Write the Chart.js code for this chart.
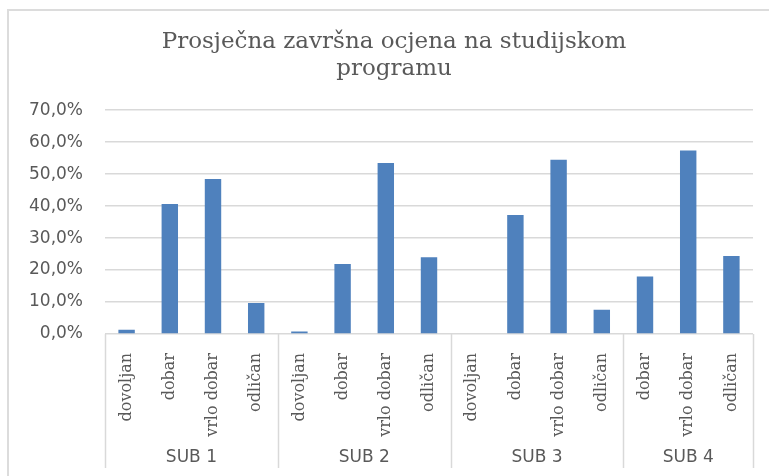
<!DOCTYPE html>
<html>
<head>
<meta charset="utf-8">
<script src="https://cdn.jsdelivr.net/npm/chart.js@4.4.1/dist/chart.umd.min.js"></script>
<style>
  html, body { margin: 0; padding: 0; background: #fff; }
  #wrap { width: 769px; height: 476px; position: relative; }
</style>
</head>
<body>
<div id="wrap"><canvas id="ocjene"></canvas></div>
<script>
// Grades per study programme, share of students in %
const sub1Grades = ['dovoljan', 'dobar', 'vrlo dobar', 'odličan'];
const sub1Values = [1.3, 40.7, 48.5, 9.7];
const sub2Grades = ['dovoljan', 'dobar', 'vrlo dobar', 'odličan'];
const sub2Values = [0.8, 21.9, 53.5, 24.0];
const sub3Grades = ['dovoljan', 'dobar', 'vrlo dobar', 'odličan'];
const sub3Values = [0, 37.2, 54.5, 7.6];
const sub4Grades = ['dobar', 'vrlo dobar', 'odličan'];
const sub4Values = [18.0, 57.4, 24.4];

const groupNames = ['SUB 1', 'SUB 2', 'SUB 3', 'SUB 4'];
const yMax = 70;
const yStep = 10;

const gradeLabels = [...sub1Grades, ...sub2Grades, ...sub3Grades, ...sub4Grades];
const shareValues = [...sub1Values, ...sub2Values, ...sub3Values, ...sub4Values];
const groupSizes = [sub1Grades.length, sub2Grades.length, sub3Grades.length, sub4Grades.length];

// index boundaries and centres of each group on the category axis
const groupEdges = [-0.5];
const groupCenters = [];
groupSizes.forEach((n) => {
  const start = groupEdges[groupEdges.length - 1];
  groupCenters.push(start + n / 2);
  groupEdges.push(start + n);
});

const gridColor = '#d9d9d9';
const textColor = '#595959';

function formatPercent(value) {
  return value.toFixed(1).replace('.', ',') + '%';
}

// Outer frame and the vertical lines separating the groups under the axis
const groupLines = {
  id: 'groupLines',
  beforeDraw(chart) {
    const { ctx } = chart;
    ctx.save();
    ctx.strokeStyle = '#dcdcdc';
    ctx.lineWidth = 2;
    ctx.beginPath();
    ctx.moveTo(8, chart.height);
    ctx.lineTo(8, 10);
    ctx.lineTo(chart.width, 10);
    ctx.stroke();
    ctx.restore();
  },
  afterDraw(chart) {
    const { ctx, chartArea } = chart;
    const grp = chart.scales.grp;
    ctx.save();
    ctx.strokeStyle = gridColor;
    ctx.lineWidth = 1.5;
    groupEdges.forEach((edge) => {
      const px = Math.round(grp.getPixelForValue(edge)) + 0.5;
      ctx.beginPath();
      ctx.moveTo(px, chartArea.bottom);
      ctx.lineTo(px, grp.bottom);
      ctx.stroke();
    });
    ctx.restore();
  },
};

new Chart(document.getElementById('ocjene'), {
  type: 'bar',
  data: {
    labels: gradeLabels,
    datasets: [
      {
        data: shareValues,
        backgroundColor: '#4f81bd',
        borderWidth: 0,
        barPercentage: 0.38,
        categoryPercentage: 1,
        xAxisID: 'x',
        yAxisID: 'y',
      },
    ],
  },
  options: {
    responsive: true,
    maintainAspectRatio: false,
    animation: false,
    layout: {
      padding: { left: 20, right: 1, top: 10, bottom: 8 },
    },
    plugins: {
      legend: { display: false },
      tooltip: { enabled: false },
      title: {
        display: true,
        text: ['Prosječna završna ocjena na studijskom', 'programu'],
        color: textColor,
        font: { family: '"DejaVu Serif"', size: 23, weight: 'normal', lineHeight: 1.2 },
        padding: { top: 18, bottom: 27 },
      },
    },
    scales: {
      y: {
        min: 0,
        max: yMax,
        afterFit: (scale) => {
          scale.width = 85;
        },
        ticks: {
          stepSize: yStep,
          padding: 22,
          color: textColor,
          font: { family: '"DejaVu Sans"', size: 17 },
          callback: (value) => formatPercent(value),
        },
        grid: { color: gridColor, lineWidth: 1.5, drawTicks: false },
        border: { display: false },
      },
      // empty strip on the right side of the plot
      pad: {
        type: 'linear',
        position: 'right',
        afterFit: (scale) => {
          scale.width = 15;
        },
        ticks: { display: false },
        grid: { display: false },
        border: { display: false },
      },
      x: {
        type: 'category',
        position: 'bottom',
        weight: 0,
        afterFit: (scale) => {
          scale.height = 105;
        },
        ticks: {
          autoSkip: false,
          minRotation: 90,
          maxRotation: 90,
          padding: 11,
          color: textColor,
          font: { family: '"DejaVu Serif"', size: 16 },
        },
        grid: { display: false },
        border: { display: false },
      },
      grp: {
        type: 'linear',
        position: 'bottom',
        weight: 10,
        offset: false,
        min: groupEdges[0],
        max: groupEdges[groupEdges.length - 1],
        afterBuildTicks: (scale) => {
          scale.ticks = groupCenters.map((v) => ({ value: v }));
        },
        afterFit: (scale) => {
          scale.height = 29;
        },
        ticks: {
          autoSkip: false,
          maxRotation: 0,
          padding: 0,
          color: textColor,
          font: { family: '"DejaVu Sans"', size: 17 },
          callback: (value) => groupNames[groupCenters.indexOf(value)],
        },
        grid: { display: false, offset: false },
        border: { display: false },
      },
    },
  },
  plugins: [groupLines],
});
</script>
</body>
</html>
